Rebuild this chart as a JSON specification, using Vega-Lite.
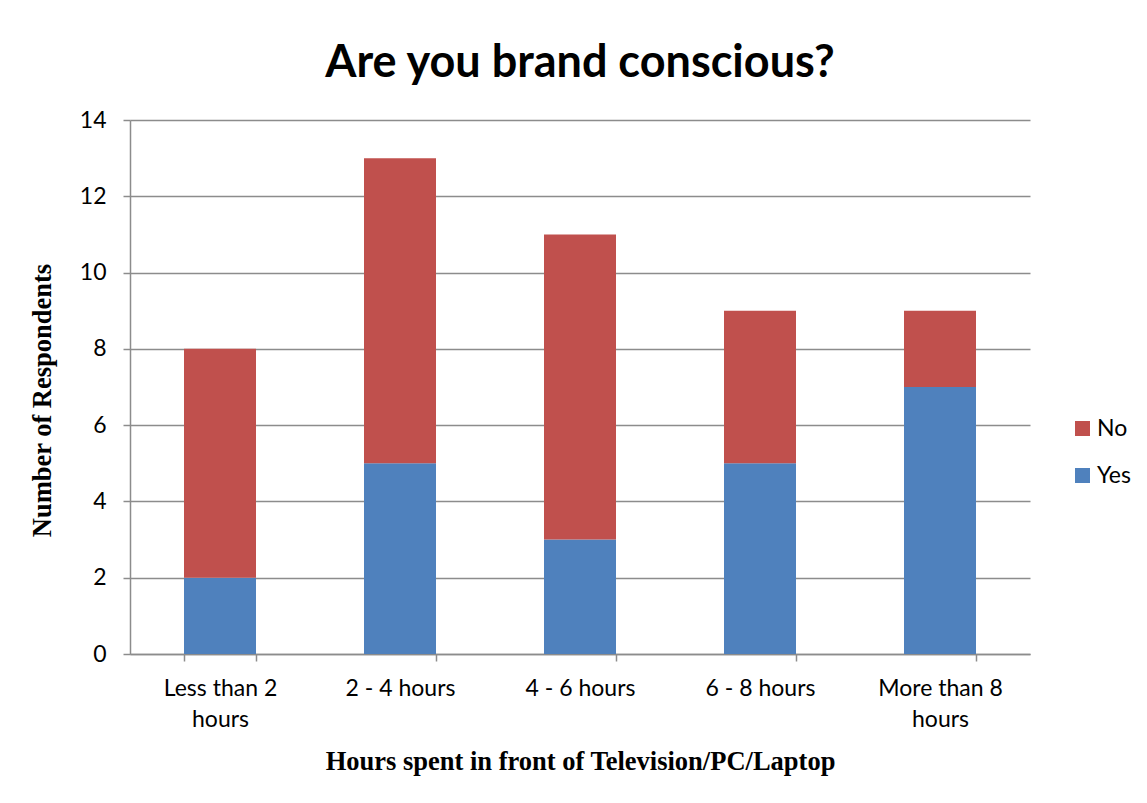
{
  "$schema": "https://vega.github.io/schema/vega-lite/v6.json",
  "autosize": {"type": "none"},
  "width": 900,
  "height": 534,
  "padding": {"left": 130, "top": 120, "right": 117, "bottom": 149},
  "background": "white",
  "title": {
    "text": "Are you brand conscious?",
    "font": "Lato",
    "fontSize": 45,
    "fontWeight": "bold",
    "color": "#000000",
    "anchor": "middle",
    "offset": 23
  },
  "data": {
    "values": [
      {"Hours": "Less than 2 hours", "Response": "Yes", "Count": 2},
      {"Hours": "Less than 2 hours", "Response": "No", "Count": 6},
      {"Hours": "2 - 4 hours", "Response": "Yes", "Count": 5},
      {"Hours": "2 - 4 hours", "Response": "No", "Count": 8},
      {"Hours": "4 - 6 hours", "Response": "Yes", "Count": 3},
      {"Hours": "4 - 6 hours", "Response": "No", "Count": 8},
      {"Hours": "6 - 8 hours", "Response": "Yes", "Count": 5},
      {"Hours": "6 - 8 hours", "Response": "No", "Count": 4},
      {"Hours": "More than 8 hours", "Response": "Yes", "Count": 7},
      {"Hours": "More than 8 hours", "Response": "No", "Count": 2}
    ]
  },
  "mark": {"type": "bar"},
  "encoding": {
    "x": {
      "field": "Hours",
      "type": "nominal",
      "sort": ["Less than 2 hours", "2 - 4 hours", "4 - 6 hours", "6 - 8 hours", "More than 8 hours"],
      "scale": {"paddingInner": 0.6, "paddingOuter": 0.3},
      "axis": {
        "title": "Hours spent in front of Television/PC/Laptop",
        "titleFont": "Liberation Serif",
        "titleFontSize": 26.5,
        "titleFontWeight": "bold",
        "titleColor": "#000000",
        "titlePadding": 17,
        "labelAngle": 0,
        "labelFont": "Lato",
        "labelFontSize": 23,
        "labelColor": "#000000",
        "labelPadding": 16,
        "labelLineHeight": 31,
        "labelExpr": "datum.label == 'Less than 2 hours' ? ['Less than 2', 'hours'] : datum.label == 'More than 8 hours' ? ['More than 8', 'hours'] : datum.label",
        "tickBand": "extent",
        "tickSize": 7,
        "tickColor": "#8c8c8c",
        "tickWidth": 1.5,
        "domainColor": "#8c8c8c",
        "domainWidth": 1.5,
        "grid": false
      }
    },
    "y": {
      "field": "Count",
      "type": "quantitative",
      "aggregate": "sum",
      "scale": {"domain": [0, 14], "nice": false},
      "axis": {
        "title": "Number of Respondents",
        "titleFont": "Liberation Serif",
        "titleFontSize": 26.5,
        "titleFontWeight": "bold",
        "titleColor": "#000000",
        "titlePadding": 23,
        "titleY": 280,
        "values": [0, 2, 4, 6, 8, 10, 12, 14],
        "labelFont": "Lato",
        "labelFontSize": 23,
        "labelColor": "#000000",
        "labelPadding": 17,
        "tickSize": 7,
        "tickColor": "#8c8c8c",
        "tickWidth": 1.5,
        "domainColor": "#8c8c8c",
        "domainWidth": 1.5,
        "grid": true,
        "gridColor": "#8c8c8c",
        "gridWidth": 1.5
      }
    },
    "color": {
      "field": "Response",
      "type": "nominal",
      "scale": {"domain": ["No", "Yes"], "range": ["#C0504D", "#4F81BD"]},
      "legend": {
        "title": null,
        "orient": "none",
        "legendX": 941,
        "legendY": 297,
        "symbolType": "square",
        "symbolSize": 225,
        "symbolStrokeWidth": 0,
        "labelFont": "Lato",
        "labelFontSize": 23,
        "labelColor": "#000000",
        "labelOffset": 3,
        "rowPadding": 23
      }
    },
    "order": {"field": "Response", "sort": "descending"}
  },
  "config": {
    "view": {"stroke": null}
  }
}
